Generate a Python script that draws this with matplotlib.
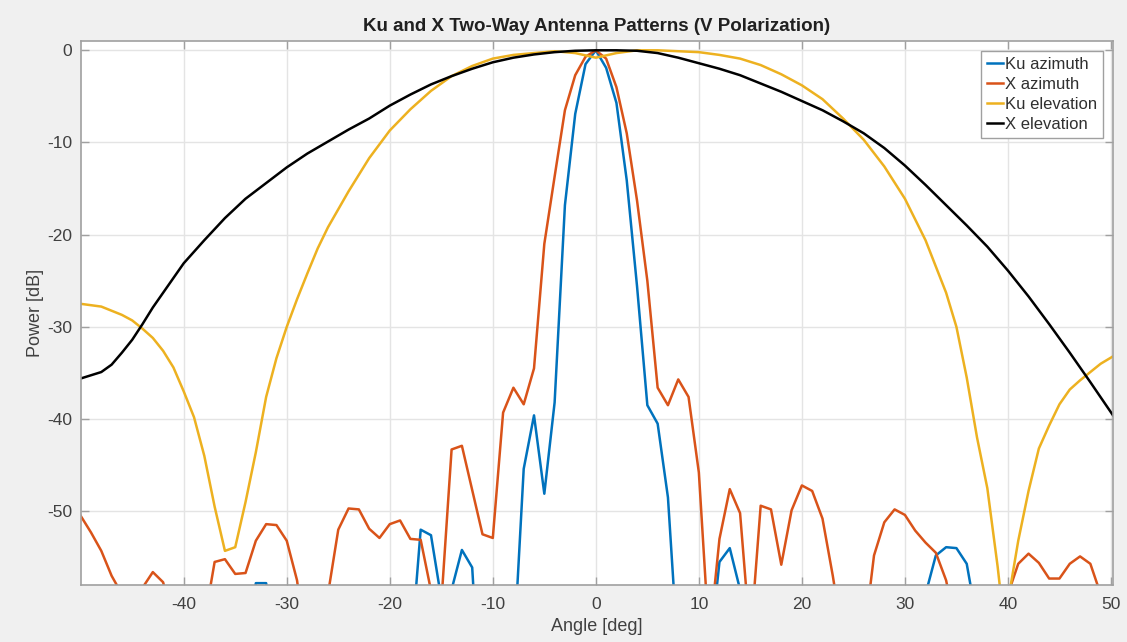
import numpy as np
import matplotlib
matplotlib.use("Agg")
import matplotlib.pyplot as plt

# ---------------- data ----------------
az_angle = list(range(-50, 51))

ku_azimuth = [
    -66, -66, -66, -66, -66, -66, -66, -66, -66, -66,   # -50..-41
    -66, -66, -66, -66, -66, -66, -66, -57.8, -57.8, -66,  # -40..-31
    -66, -66, -66, -66, -66, -66, -66, -66, -66, -66,   # -30..-21
    -66, -66, -66, -52.0, -52.6, -59.5, -58.5, -54.2, -56.1, -75,  # -20..-11
    -66, -66, -66, -45.4, -39.6, -48.1, -38.2, -16.8, -6.9, -1.5,  # -10..-1
    0.0,                                                  # 0
    -1.9, -5.7, -14.1, -25.6, -38.5, -40.5, -48.5, -66, -66, -66,  # 1..10
    -66, -55.5, -54.0, -58.5, -66, -66, -66, -66, -66, -66,  # 11..20
    -66, -66, -66, -66, -66, -66, -66, -66, -66, -66,   # 21..30
    -66, -59, -54.8, -53.9, -54.0, -55.7, -62, -66, -66, -66,  # 31..40
    -66, -66, -66, -66, -66, -66, -66, -66, -66, -66,   # 41..50
]

x_azimuth = [
    -50.5, -52.3, -54.3, -57.0, -59, -64, -58.3, -56.6, -57.7, -62,  # -50..-41
    -66, -66, -62, -55.5, -55.2, -56.8, -56.7, -53.2, -51.4, -51.5,  # -40..-31
    -53.2, -57.5, -66, -66, -59, -52.0, -49.7, -49.8, -51.9, -52.9,  # -30..-21
    -51.4, -51.0, -53.0, -53.1, -58.6, -60, -43.3, -42.9, -47.7, -52.5,  # -20..-11
    -52.9, -39.3, -36.6, -38.4, -34.5, -21.0, -13.7, -6.5, -2.7, -0.7,  # -10..-1
    0.0,                                                  # 0
    -0.9, -4.0, -9.0, -16.3, -25.0, -36.6, -38.5, -35.7, -37.6, -45.8,  # 1..10
    -64, -53.0, -47.6, -50.2, -64, -49.4, -49.8, -55.8, -49.9, -47.2,  # 11..20
    -47.8, -50.8, -57.0, -64, -66, -64, -54.8, -51.2, -49.8, -50.4,  # 21..30
    -52.1, -53.4, -54.5, -57.5, -63, -66, -66, -66, -66, -59,  # 31..40
    -55.7, -54.6, -55.6, -57.3, -57.3, -55.7, -54.9, -55.7, -59, -62,  # 41..50
]

ku_el_angle = [-50, -48, -46, -45, -44, -43, -42, -41, -40, -39, -38, -37,
               -36, -35, -34, -33, -32, -31, -30, -29, -28, -27, -26, -24,
               -22, -20, -18, -16, -14, -12, -10, -8, -6, -4, -2, 0, 2, 4,
               6, 8, 10, 12, 14, 16, 18, 20, 22, 24, 26, 28, 30, 32, 34, 35,
               36, 37, 38, 39, 39.6, 40.2, 41, 42, 43, 44, 45, 46, 47, 48,
               49, 50.2]
ku_elevation = [-27.5, -27.8, -28.7, -29.3, -30.2, -31.2, -32.6, -34.4,
                -37.0, -39.8, -44.0, -49.5, -54.3, -53.9, -49.0, -43.6,
                -37.6, -33.4, -30.0, -27.0, -24.2, -21.5, -19.2, -15.3,
                -11.7, -8.7, -6.4, -4.4, -2.8, -1.7, -0.9, -0.5, -0.3, -0.1,
                -0.3, -0.8, -0.3, 0.0, 0.0, -0.1, -0.2, -0.5, -0.9, -1.6,
                -2.6, -3.8, -5.3, -7.4, -9.7, -12.6, -16.1, -20.6, -26.3,
                -30.0, -35.5, -42.0, -47.5, -56.0, -62.0, -58.5, -53.2,
                -47.8, -43.2, -40.7, -38.4, -36.8, -35.8, -34.9, -34.0, -33.2]

x_el_angle = [-50, -48, -47, -46, -45, -44, -43, -42, -40, -38, -36, -34,
              -32, -30, -28, -26, -24, -22, -20, -18, -16, -14, -12, -10, -8,
              -6, -4, -2, 0, 2, 4, 6, 8, 10, 12, 14, 16, 18, 20, 22, 24, 26,
              28, 30, 32, 34, 36, 38, 40, 42, 44, 46, 48, 50.2]
x_elevation = [-35.6, -34.9, -34.1, -32.8, -31.4, -29.7, -27.9, -26.3, -23.1,
               -20.6, -18.2, -16.1, -14.4, -12.7, -11.2, -9.9, -8.6, -7.4,
               -6.0, -4.8, -3.7, -2.8, -2.0, -1.3, -0.8, -0.45, -0.2, -0.05,
               0.0, 0.0, -0.05, -0.3, -0.8, -1.4, -2.0, -2.7, -3.6, -4.5,
               -5.5, -6.5, -7.7, -9.0, -10.6, -12.5, -14.6, -16.8, -19.0,
               -21.3, -23.9, -26.7, -29.7, -32.8, -36.0, -39.6]

series_labels = ["Ku azimuth", "X azimuth", "Ku elevation", "X elevation"]
colors = ["#0072BD", "#D95319", "#EDB120", "#000000"]
x_ticks = [-40, -30, -20, -10, 0, 10, 20, 30, 40, 50]
y_ticks = [-50, -40, -30, -20, -10, 0]

# ---------------- plot ----------------
plt.rcParams['font.family'] = ['Liberation Sans', 'DejaVu Sans']
plt.rcParams['axes.unicode_minus'] = False

fig = plt.figure(figsize=(11.27, 6.42), dpi=100, facecolor="#f0f0f0")
ax = fig.add_axes([0.0716, 0.0888, 0.9160, 0.8472])
ax.set_facecolor("white")

lw = 1.8
ax.plot(az_angle, ku_azimuth, color=colors[0], lw=lw, label=series_labels[0])
ax.plot(az_angle, x_azimuth, color=colors[1], lw=lw, label=series_labels[1])
ax.plot(ku_el_angle, ku_elevation, color=colors[2], lw=lw, label=series_labels[2])
ax.plot(x_el_angle, x_elevation, color=colors[3], lw=lw, label=series_labels[3])

ax.set_xlim(-50, 50.2)
ax.set_ylim(-58, 1)
ax.set_xticks(x_ticks)
ax.set_yticks(y_ticks)
ax.grid(True, color="#e4e4e4", linewidth=1.0)
ax.set_axisbelow(True)

for s in ax.spines.values():
    s.set_color("#a0a0a0")
    s.set_linewidth(1.2)
ax.tick_params(axis="both", direction="in", length=6, width=1, color="#a0a0a0",
               labelsize=12.5, labelcolor="#404040", top=True, right=True)
ax.tick_params(axis="x", pad=9)
ax.tick_params(axis="y", pad=6)

ax.set_title("Ku and X Two-Way Antenna Patterns (V Polarization)",
             fontsize=13.5, fontweight="bold", color="#202020", pad=7)
ax.set_xlabel("Angle [deg]", fontsize=13, color="#404040", labelpad=4)
ax.set_ylabel("Power [dB]", fontsize=13, color="#404040", labelpad=2)

leg = ax.legend(loc="upper right", fontsize=12, handlelength=1.0,
                handletextpad=0.1, borderaxespad=0.6, borderpad=0.35,
                labelspacing=0.3, fancybox=False, framealpha=1,
                edgecolor="#a0a0a0")
leg.get_frame().set_linewidth(1.0)
for t in leg.get_texts():
    t.set_color("#303030")

fig.savefig("out.png", dpi=100, facecolor=fig.get_facecolor())
